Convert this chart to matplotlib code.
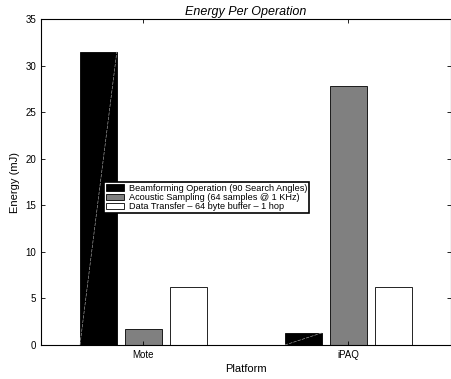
import numpy as np
import matplotlib
matplotlib.use('Agg')
import matplotlib.pyplot as plt

plt.rcParams['font.family'] = ['Liberation Sans', 'DejaVu Sans']

platforms = ['Mote', 'iPAQ']
beamforming = [31.5, 1.3]
acoustic = [1.75, 27.85]
transfer = [6.2, 6.2]
labels = ['Beamforming Operation (90 Search Angles)',
          'Acoustic Sampling (64 samples @ 1 KHz)',
          'Data Transfer \u2013 64 byte buffer \u2013 1 hop']

fig = plt.figure(figsize=(4.52, 3.79), dpi=100)
ax = fig.add_axes([0.0907, 0.0897, 0.907, 0.860])

x = np.arange(1, len(platforms) + 1)
w = 0.18
off = 0.22
b1 = ax.bar(x - off, beamforming, w, color='black', edgecolor='black', linewidth=0.6, label=labels[0])
b2 = ax.bar(x, acoustic, w, color='#808080', edgecolor='black', linewidth=0.6, label=labels[1])
b3 = ax.bar(x + off, transfer, w, color='white', edgecolor='black', linewidth=0.6, label=labels[2])

# rendering artefact: thin diagonal through the black bars
for r in b1:
    ax.plot([r.get_x(), r.get_x() + r.get_width()], [0, r.get_height()],
            color='#bbbbbb', linewidth=0.4, linestyle=(0, (6, 2)))

ax.set_xlim(0.5, 2.5)
ax.set_ylim(0, 35)
ax.set_xticks(x)
ax.set_xticklabels(platforms)
ax.set_yticks(np.arange(0, 36, 5))
ax.tick_params(direction='in', top=True, right=True, labelsize=7, length=3, width=0.6)
for s in ax.spines.values():
    s.set_linewidth(0.8)

ax.set_title('Energy Per Operation', fontsize=9, style='italic', pad=3)
ax.set_xlabel('Platform', fontsize=8, labelpad=3)
ax.set_ylabel('Energy (mJ)', fontsize=8, labelpad=4)

leg = ax.legend(loc='lower left', bbox_to_anchor=(0.154, 0.405), fontsize=6.6,
                fancybox=False, framealpha=1, edgecolor='black', borderpad=0.2,
                labelspacing=0.02, handlelength=2.0, handletextpad=0.5, borderaxespad=0)
leg.get_frame().set_linewidth(1.2)

fig.savefig('out.png', dpi=100)
